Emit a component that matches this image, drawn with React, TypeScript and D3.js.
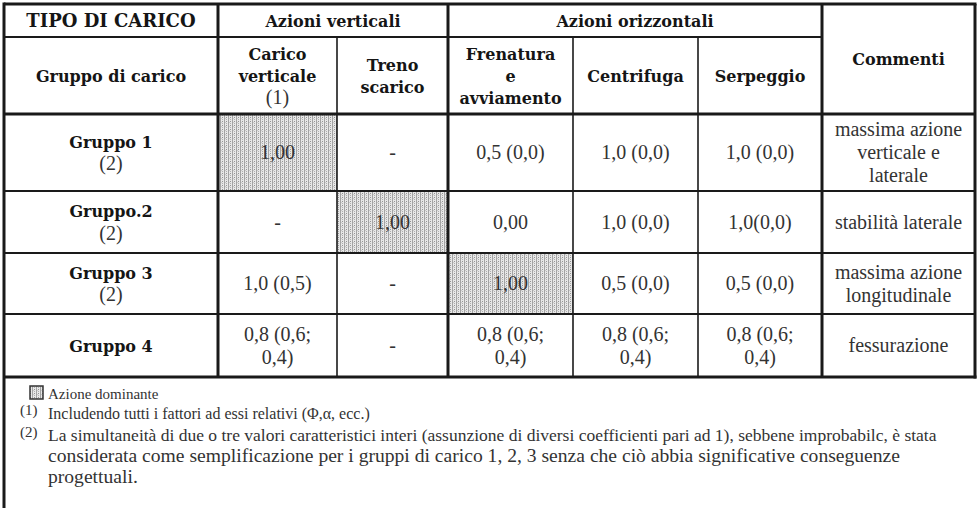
import React from "react";
import * as d3 from "d3";

// ---- data ----
const topLeftHeader = "TIPO DI CARICO";
const groupHeaders = ["Azioni verticali", "Azioni orizzontali"];
const columnHeaders: string[][] = [
  ["Gruppo di carico"],
  ["Carico", "verticale", "(1)"],
  ["Treno", "scarico"],
  ["Frenatura", "e", "avviamento"],
  ["Centrifuga"],
  ["Serpeggio"],
  ["Commenti"],
];
const groups = ["Gruppo 1", "Gruppo.2", "Gruppo 3", "Gruppo 4"];
const groupNotes = ["(2)", "(2)", "(2)", ""];
const caricoVerticale = ["1,00", "-", "1,0 (0,5)", "0,8 (0,6;|0,4)"];
const trenoScarico = ["-", "1,00", "-", "-"];
const frenatura = ["0,5 (0,0)", "0,00", "1,00", "0,8 (0,6;|0,4)"];
const centrifuga = ["1,0 (0,0)", "1,0 (0,0)", "0,5 (0,0)", "0,8 (0,6;|0,4)"];
const serpeggio = ["1,0 (0,0)", "1,0(0,0)", "0,5 (0,0)", "0,8 (0,6;|0,4)"];
const commenti = [
  "massima azione|verticale e|laterale",
  "stabilità laterale",
  "massima azione|longitudinale",
  "fessurazione",
];
const dominantColumn = [1, 2, 3, -1];
const legendLabel = "Azione dominante";
const noteMarks = ["(1)", "(2)"];
const note1 = "Includendo tutti i fattori ad essi relativi (Φ,α, ecc.)";
const note2Lines = [
  "La simultaneità di due o tre valori caratteristici interi (assunzione di diversi coefficienti pari ad 1), sebbene improbabilc, è stata",
  "considerata come semplificazione per i gruppi di carico 1, 2, 3 senza che ciò abbia significative conseguenze",
  "progettuali.",
];

// ---- layout ----
const W = 978;
const H = 508;
const x0 = 4;
const y0 = 4;
const colWidths = [214, 119, 111, 125, 125, 124, 153];
const rowHeights = [33, 77, 77, 62, 61, 63];
const colEdges = [x0, ...Array.from(d3.cumsum(colWidths), (v) => v + x0)];
const rowEdges = [y0, ...Array.from(d3.cumsum(rowHeights), (v) => v + y0)];
const right = colEdges[colEdges.length - 1];
const bottom = rowEdges[rowEdges.length - 1];

const boldFont = "'DejaVu Serif'";
const bodyFont = "'Liberation Serif'";
const bodyColor = "#333";
const headColor = "#151515";

const colCenter = (i: number) => (colEdges[i] + colEdges[i + 1]) / 2;
const rowCenter = (i: number) => (rowEdges[i] + rowEdges[i + 1]) / 2;

function Lines({
  x, cy, lines, gap, font, size, weight, fill, dy,
}: {
  x: number; cy: number; lines: string[]; gap: number; font: string;
  size: number; weight?: string; fill: string; dy: number;
}) {
  const start = cy - ((lines.length - 1) * gap) / 2;
  return (
    <text textAnchor="middle" fontFamily={font} fontSize={size} fontWeight={weight || "normal"} fill={fill}>
      {lines.map((l, i) => (
        <tspan key={i} x={x} y={start + i * gap + dy}>{l}</tspan>
      ))}
    </text>
  );
}

export default function App() {
  const valueCols = [caricoVerticale, trenoScarico, frenatura, centrifuga, serpeggio, commenti];
  const thick = 3;
  const mid = 2.2;
  const thin = 1.6;
  const bodySize = 20;

  const vLines = [
    { x: colEdges[1], y1: y0, y2: bottom, w: thick },
    { x: colEdges[2], y1: rowEdges[1], y2: bottom, w: thin },
    { x: colEdges[3], y1: y0, y2: bottom, w: thick },
    { x: colEdges[4], y1: rowEdges[1], y2: bottom, w: thin },
    { x: colEdges[5], y1: rowEdges[1], y2: bottom, w: thin },
    { x: colEdges[6], y1: y0, y2: bottom, w: thick },
  ];
  const hLines = [
    { y: rowEdges[1], x1: x0, x2: colEdges[6], w: mid },
    { y: rowEdges[2], x1: x0, x2: right, w: thick },
    { y: rowEdges[3], x1: x0, x2: right, w: mid },
    { y: rowEdges[4], x1: x0, x2: right, w: mid },
    { y: rowEdges[5], x1: x0, x2: right, w: mid },
  ];

  return (
    <svg width={W} height={H} style={{ position: "absolute", left: 0, top: 0, background: "#fff" }}>
      <defs>
        <pattern id="dom" width="4" height="4" patternUnits="userSpaceOnUse">
          <rect width="4" height="4" fill="#e8e8e8" />
          <rect x="0" y="0" width="1" height="4" fill="#a4a4a4" />
          <rect x="2" y="1" width="1" height="1" fill="#949494" />
          <rect x="2" y="3" width="1" height="1" fill="#afafaf" />
          <rect x="1" y="2" width="1" height="1" fill="#cacaca" />
        </pattern>
      </defs>
      <rect width={W} height={H} fill="#fff" />

      {dominantColumn.map((c, r) =>
        c >= 0 ? (
          <rect key={r} x={colEdges[c]} y={rowEdges[r + 2]} width={colWidths[c]} height={rowHeights[r + 2]} fill="url(#dom)" />
        ) : null
      )}

      {/* header row 1 */}
      <Lines x={colCenter(0)} cy={rowCenter(0)} lines={[topLeftHeader]} gap={0} font={boldFont} size={18} weight="bold" fill={headColor} dy={6.5} />
      <Lines x={(colEdges[1] + colEdges[3]) / 2} cy={rowCenter(0)} lines={[groupHeaders[0]]} gap={0} font={boldFont} size={16} weight="bold" fill={headColor} dy={6} />
      <Lines x={(colEdges[3] + colEdges[6]) / 2} cy={rowCenter(0)} lines={[groupHeaders[1]]} gap={0} font={boldFont} size={16} weight="bold" fill={headColor} dy={6} />

      {/* header row 2 */}
      {columnHeaders.map((h, i) => {
        const cy = i === 6 ? (rowEdges[0] + rowEdges[2]) / 2 : rowCenter(1);
        if (h.length === 3 && h[2] === "(1)") {
          const gap = 22;
          const start = cy - gap;
          return (
            <g key={i}>
              <Lines x={colCenter(i)} cy={start + gap / 2} lines={h.slice(0, 2)} gap={gap} font={boldFont} size={16} weight="bold" fill={headColor} dy={6} />
              <Lines x={colCenter(i)} cy={start + 2 * gap} lines={[h[2]]} gap={0} font={bodyFont} size={bodySize} fill={bodyColor} dy={6.5} />
            </g>
          );
        }
        return <Lines key={i} x={colCenter(i)} cy={cy} lines={h} gap={22} font={boldFont} size={16} weight="bold" fill={headColor} dy={6} />;
      })}

      {/* body rows */}
      {groups.map((g, r) => {
        const cy = rowCenter(r + 2);
        const note = groupNotes[r];
        return (
          <g key={g}>
            {note ? (
              <>
                <Lines x={colCenter(0)} cy={cy - 11} lines={[g]} gap={0} font={boldFont} size={16} weight="bold" fill={headColor} dy={6} />
                <Lines x={colCenter(0)} cy={cy + 11} lines={[note]} gap={0} font={bodyFont} size={bodySize} fill={bodyColor} dy={6.5} />
              </>
            ) : (
              <Lines x={colCenter(0)} cy={cy} lines={[g]} gap={0} font={boldFont} size={16} weight="bold" fill={headColor} dy={6} />
            )}
            {valueCols.map((col, c) => (
              <Lines key={c} x={colCenter(c + 1)} cy={cy} lines={col[r].split("|")} gap={23} font={bodyFont} size={bodySize} fill={bodyColor} dy={6.5} />
            ))}
          </g>
        );
      })}

      {vLines.map((l, i) => (
        <line key={"v" + i} x1={l.x} x2={l.x} y1={l.y1} y2={l.y2} stroke="#1a1a1a" strokeWidth={l.w} />
      ))}
      {hLines.map((l, i) => (
        <line key={"h" + i} x1={l.x1} x2={l.x2} y1={l.y} y2={l.y} stroke="#1a1a1a" strokeWidth={l.w} />
      ))}
      <line x1={x0} x2={right + 1.5} y1={y0} y2={y0} stroke="#1a1a1a" strokeWidth={thick} />
      <line x1={x0} x2={x0} y1={y0 - 1.5} y2={H} stroke="#1a1a1a" strokeWidth={thick} />
      <line x1={right} x2={right} y1={y0} y2={bottom + 1.5} stroke="#1a1a1a" strokeWidth={thick} />
      <line x1={x0} x2={right + 1.5} y1={bottom} y2={bottom} stroke="#1a1a1a" strokeWidth={thick} />

      {/* footer */}
      <rect x={30} y={386} width={13} height={13} fill="url(#dom)" stroke="#333" strokeWidth={1.5} />
      <text x={48} y={399} fontFamily={bodyFont} fontSize={15} fill={bodyColor}>{legendLabel}</text>
      <text x={20} y={415} fontFamily={bodyFont} fontSize={15} fill={bodyColor}>{noteMarks[0]}</text>
      <text x={48} y={419} fontFamily={bodyFont} fontSize={16} fill={bodyColor}>{note1}</text>
      <text x={20} y={437} fontFamily={bodyFont} fontSize={15} fill={bodyColor}>{noteMarks[1]}</text>
      <text x={48} y={441} fontFamily={bodyFont} fontSize={17.5} fill={bodyColor}>{note2Lines[0]}</text>
      <text x={48} y={462} fontFamily={bodyFont} fontSize={19.6} fill={bodyColor}>{note2Lines[1]}</text>
      <text x={48} y={483} fontFamily={bodyFont} fontSize={19.6} fill={bodyColor}>{note2Lines[2]}</text>
    </svg>
  );
}
